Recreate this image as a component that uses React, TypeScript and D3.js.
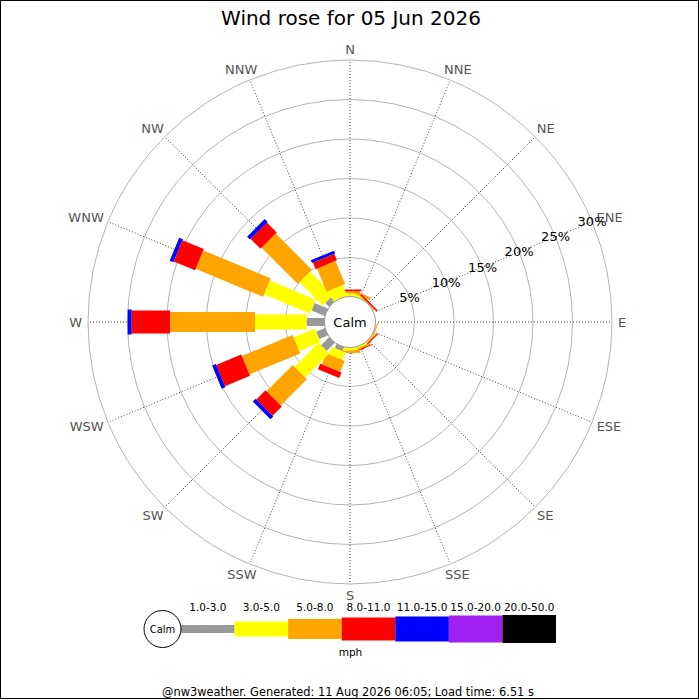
import React from "react";
import * as d3 from "d3";

const title = "Wind rose for 05 Jun 2026";
const footer = "@nw3weather. Generated: 11 Aug 2026 06:05; Load time: 6.51 s";
const unitLabel = "mph";
const calmLabel = "Calm";

const directions = ["N", "NNE", "NE", "ENE", "E", "ESE", "SE", "SSE", "S", "SSW", "SW", "WSW", "W", "WNW", "NW", "NNW"];
const rangeLabels = ["1.0-3.0", "3.0-5.0", "5.0-8.0", "8.0-11.0", "11.0-15.0", "15.0-20.0", "20.0-50.0"];
const rangeColors = ["#999999", "#ffff00", "#ffa500", "#ff0000", "#0000ff", "#a020f0", "#000000"];
const rangeWidths = [8, 15, 20, 23, 25, 27, 28];
const pctTicks = [5, 10, 15, 20, 25, 30];

// percentages per direction (N..NNW) for each speed range
const r1 = [0, 0, 0, 0, 0, 0, 0, 0, 0, 0.63, 1.52, 1.27, 2.32, 1.9, 0.76, 0];
const r2 = [0.45, 0.35, 0.05, 0, 0, 0.1, 0.15, 0.3, 0.45, 1.01, 4.3, 2.91, 6.54, 6.33, 4.18, 1.52];
const r3 = [0.3, 0.3, 0.1, 0, 0, 0.15, 0.15, 0.2, 0.3, 1.52, 4.68, 6.96, 10.76, 9.24, 6.46, 3.16];
const r4 = [0.2, 0.05, 0.2, 0, 0, 0, 0.15, 0.1, 0, 0.76, 1.65, 3.42, 4.85, 2.91, 1.77, 0.89];
const r5 = [0, 0, 0, 0, 0, 0, 0, 0, 0, 0, 0.51, 0.51, 0.51, 0.51, 0.51, 0.38];
const r6 = [0, 0, 0, 0, 0, 0, 0, 0, 0, 0, 0, 0, 0, 0, 0, 0];
const r7 = [0, 0, 0, 0, 0, 0, 0, 0, 0, 0, 0, 0, 0, 0, 0, 0];
const series = [r1, r2, r3, r4, r5, r6, r7];

const W = 700, H = 700;
const cx = 350, cy = 322;
const calmR = 25;
const font = "DejaVu Sans, sans-serif";

const rScale = d3.scaleLinear().domain([0, 30]).range([calmR, 262]);
const angle = d3.scaleLinear().domain([0, directions.length]).range([0, 360]);

const charW: Record<string, number> = { N: 9.7, E: 8.2, S: 8.3, W: 12.9 };

export default function App() {
  const segs: { dir: number; r0: number; r1: number; k: number }[] = [];
  directions.forEach((_, i) => {
    let acc = 0;
    series.forEach((s, k) => {
      const v = s[i];
      if (v > 0) {
        segs.push({ dir: i, r0: rScale(acc), r1: rScale(acc + v), k });
      }
      acc += v;
    });
  });

  const legendX = d3.scaleBand<string>().domain(rangeLabels).range([181, 556]);
  const legendY = 629;
  const enePos = 3;
  const eneA = (angle(enePos) * Math.PI) / 180;

  return (
    <svg width={W} height={H} style={{ position: "absolute", left: 0, top: 0, background: "#fff" }} fontFamily={font}>
      <rect x={0.5} y={0.5} width={698} height={698} fill="#fff" stroke="#000" strokeWidth={1} />
      <text x={351} y={24.5} textAnchor="middle" fontSize={20} fill="#000">{title}</text>

      <g transform={`translate(${cx},${cy})`}>
        {pctTicks.map((p) => (
          <circle key={p} r={rScale(p)} fill="none" stroke="#b4b4b4" strokeWidth={1} />
        ))}
        {directions.map((d, i) => {
          const a = (angle(i) * Math.PI) / 180;
          return (
            <line key={d} x1={calmR * Math.sin(a)} y1={-calmR * Math.cos(a)} x2={rScale(30) * Math.sin(a)} y2={-rScale(30) * Math.cos(a)}
              stroke="#444" strokeWidth={1} strokeDasharray="1,2" />
          );
        })}
        {segs.map((s, j) => (
          <rect key={j} transform={`rotate(${angle(s.dir)})`} x={-rangeWidths[s.k] / 2} y={-s.r1}
            width={rangeWidths[s.k]} height={s.r1 - s.r0} fill={rangeColors[s.k]} />
        ))}
        <circle r={calmR + 0.5} fill="#fff" stroke="#999" strokeWidth={1} />
        <text x={0} y={0} textAnchor="middle" dominantBaseline="central" fontSize={13} fill="#000">{calmLabel}</text>
        {directions.map((d, i) => {
          const a = (angle(i) * Math.PI) / 180;
          const w = d.split("").reduce((t, c) => t + (charW[c] || 9), 0);
          const x = 268 * Math.sin(a) + (w / 2) * Math.sin(a);
          const y = -268 * Math.cos(a) - 5 * Math.cos(a);
          return (
            <text key={d} x={x} y={y} textAnchor="middle" dominantBaseline="central" fontSize={13} fill="#555">{d}</text>
          );
        })}
        {pctTicks.map((p) => (
          <text key={p} x={rScale(p) * Math.sin(eneA)} y={-rScale(p) * Math.cos(eneA)} textAnchor="middle" dominantBaseline="central" fontSize={13} fill="#000">{p}%</text>
        ))}
      </g>

      <g>
        {rangeLabels.map((l, k) => (
          <g key={l}>
            <rect x={legendX(l)} y={legendY - rangeWidths[k] / 2} width={legendX.bandwidth()} height={rangeWidths[k]} fill={rangeColors[k]} />
            <text x={(legendX(l) as number) + legendX.bandwidth() / 2} y={611} textAnchor="middle" fontSize={10.5} fill="#000">{l}</text>
          </g>
        ))}
        <circle cx={162.5} cy={legendY} r={18.5} fill="#fff" stroke="#000" strokeWidth={1} />
        <text x={162.5} y={legendY} textAnchor="middle" dominantBaseline="central" fontSize={10} fill="#000">{calmLabel}</text>
        <text x={350.5} y={656} textAnchor="middle" fontSize={10.5} fill="#000">{unitLabel}</text>
      </g>

      <text x={348} y={696} textAnchor="middle" fontSize={11.4} fill="#000">{footer}</text>
    </svg>
  );
}
